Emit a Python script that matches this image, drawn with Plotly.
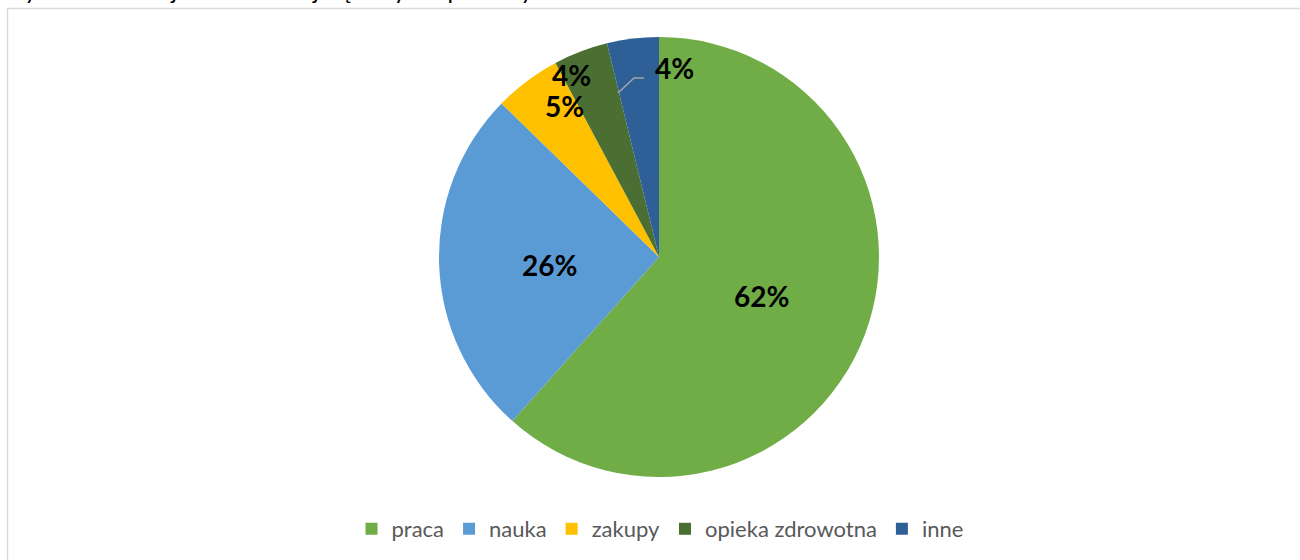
import math
import plotly.graph_objects as go

categories = ["praca", "nauka", "zakupy", "opieka zdrowotna", "inne"]
values = [61.6, 25.7, 4.9, 4.0, 3.8]
colors = ["#70AD47", "#5B9BD5", "#FFC000", "#4B6F33", "#2F5F97"]
title_text = "Wykres 16. Jaki jest Pani/a najczęstszy cel podróży?"

W, H = 1300, 560
CX, CY, R = 659, 257, 220

fig = go.Figure()
fig.add_trace(go.Pie(
    labels=categories, values=values, sort=False, direction="clockwise",
    rotation=0,
    marker=dict(colors=colors, line=dict(width=0)),
    textinfo="none",
    domain=dict(x=[(CX - R) / W, (CX + R) / W], y=[1 - (CY + R) / H, 1 - (CY - R) / H]),
    hoverinfo="label+percent",
))

total = sum(values)
cum = 0
mids = []
for v in values:
    mids.append((cum + v / 2) / total * 360)
    cum += v

def to_px(theta, r):
    return (CX + r * R * math.sin(math.radians(theta)),
            CY - r * R * math.cos(math.radians(theta)))

def to_paper(px, py):
    return px / W, 1 - py / H

annotations = []
# label placement (angle in degrees clockwise from top, radius fraction)
label_pos = [(mids[0], 0.50), (mids[1] - 2, 0.50), (327.8, 0.81), (334.4, 0.917), (4.8, 0.862)]
for i, (th, r) in enumerate(label_pos):
    x, y = to_paper(*to_px(th, r))
    pct = round(values[i] / total * 100)
    annotations.append(dict(x=x, y=y, xref="paper", yref="paper", xanchor="center", yanchor="middle",
                            text=f"<b>{pct}%</b>",
                            showarrow=False, font=dict(family="Lato", size=28, color="#000000")))

# leader line for 'inne'
p0 = to_paper(CX - 41, CY - 164)
p1 = to_paper(CX - 25, CY - 179)
p2 = to_paper(CX - 15, CY - 179)
shapes = [
    dict(type="path", xref="paper", yref="paper",
         path=f"M {p0[0]} {p0[1]} L {p1[0]} {p1[1]} L {p2[0]} {p2[1]}",
         line=dict(color="#A6A6A6", width=1.5)),
    dict(type="rect", xref="paper", yref="paper", x0=7.5 / W, x1=1.03, y0=-0.03, y1=1 - 8.5 / H,
         line=dict(color="#D9D9D9", width=1.5), fillcolor="rgba(0,0,0,0)", layer="below"),
]

annotations.append(dict(x=-2 / W, y=1 - 6 / H, xref="paper", yref="paper", xanchor="left", yanchor="bottom",
                        text=title_text, showarrow=False,
                        font=dict(family="Lato", size=24, color="#000000")))

fig.update_layout(
    width=W, height=H,
    margin=dict(l=0, r=0, t=0, b=0),
    paper_bgcolor="#FFFFFF",
    plot_bgcolor="#FFFFFF",
    showlegend=True,
    legend=dict(orientation="h", x=660 / W, xanchor="center", y=1 - 529 / H, yanchor="middle",
                font=dict(family="Lato", size=22, color="#595959"),
                itemwidth=30, traceorder="normal"),
    annotations=annotations,
    shapes=shapes,
)

fig.write_html("out.html", config={"displayModeBar": False},
               post_script="document.body.style.margin='0';document.body.style.overflow='hidden';")
